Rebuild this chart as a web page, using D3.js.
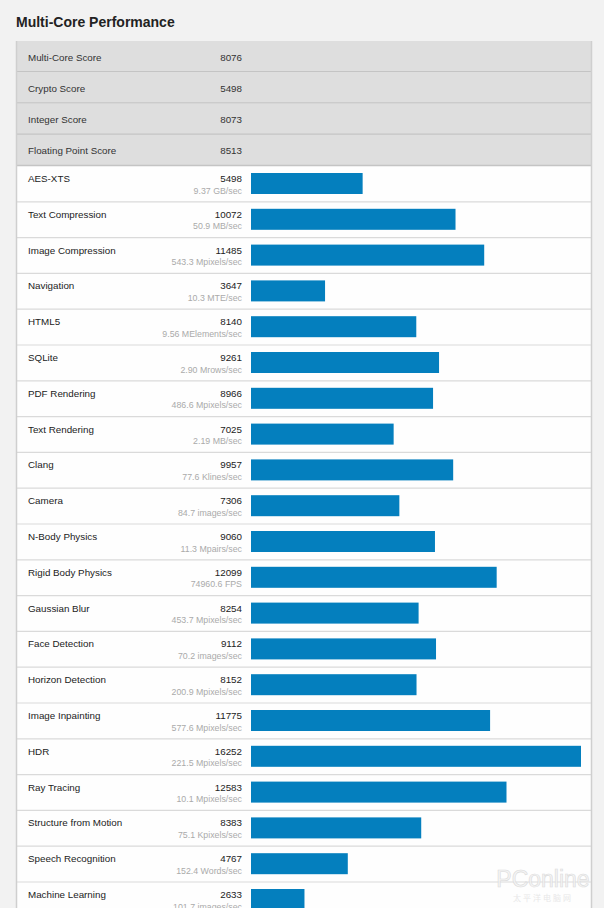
<!DOCTYPE html>
<html>
<head>
<meta charset="utf-8">
<script src="https://cdn.jsdelivr.net/npm/d3@7"></script>
<style>
html,body{margin:0;padding:0;background:#f2f2f2;}
svg{display:block;font-family:"Liberation Sans",Arial,sans-serif;}
</style>
</head>
<body>
<svg id="chart" width="604" height="908"></svg>
<script>
const title = "Multi-Core Performance";
const summaryLabels = ["Multi-Core Score","Crypto Score","Integer Score","Floating Point Score"];
const summaryValues = [8076, 5498, 8073, 8513];
const benchNames = ["AES-XTS","Text Compression","Image Compression","Navigation","HTML5","SQLite","PDF Rendering","Text Rendering","Clang","Camera","N-Body Physics","Rigid Body Physics","Gaussian Blur","Face Detection","Horizon Detection","Image Inpainting","HDR","Ray Tracing","Structure from Motion","Speech Recognition","Machine Learning"];
const benchScores = [5498,10072,11485,3647,8140,9261,8966,7025,9957,7306,9060,12099,8254,9112,8152,11775,16252,12583,8383,4767,2633];
const benchRates = ["9.37 GB/sec","50.9 MB/sec","543.3 Mpixels/sec","10.3 MTE/sec","9.56 MElements/sec","2.90 Mrows/sec","486.6 Mpixels/sec","2.19 MB/sec","77.6 Klines/sec","84.7 images/sec","11.3 Mpairs/sec","74960.6 FPS","453.7 Mpixels/sec","70.2 images/sec","200.9 Mpixels/sec","577.6 Mpixels/sec","221.5 Mpixels/sec","10.1 Mpixels/sec","75.1 Kpixels/sec","152.4 Words/sec","101.7 images/sec"];

const svg = d3.select("#chart");
const W = 604, H = 908;
const panelL = 16, panelR = 592;
const headTop = 41, headRowH = 31.25;
const benchTop = headTop + headRowH * summaryLabels.length;
const rowH = 35.8;
const valRight = 242, barX = 251;

svg.append("rect").attr("width", W).attr("height", H).attr("fill", "#f2f2f2");

svg.append("text").attr("x", 16).attr("y", 27)
  .attr("font-size", 14).attr("font-weight", "bold").attr("fill", "#222")
  .text(title);

// Panel background
svg.append("rect").attr("x", panelL).attr("y", headTop)
  .attr("width", panelR - panelL).attr("height", H - headTop + 5)
  .attr("fill", "#fefefe");

// Summary rows
const yHead = d3.scaleBand().domain(d3.range(summaryLabels.length))
  .range([headTop, benchTop]).paddingInner(0);
const hg = svg.append("g");
const hr = hg.selectAll("g").data(summaryLabels).join("g")
  .attr("transform", (d,i) => `translate(0,${yHead(i)})`);
hr.append("rect").attr("x", panelL).attr("width", panelR - panelL)
  .attr("height", yHead.bandwidth()).attr("fill", "#dedede");
hr.append("line").attr("x1", panelL).attr("x2", panelR)
  .attr("y1", yHead.bandwidth() - 0.5).attr("y2", yHead.bandwidth() - 0.5)
  .attr("stroke", "#c4c4c4").attr("stroke-width", 1.5);
hr.append("text").attr("x", 28).attr("y", 19.5).attr("font-size", 9.8)
  .attr("fill", "#333").text(d => d);
hr.append("text").attr("x", valRight).attr("y", 19.5).attr("font-size", 9.8)
  .attr("text-anchor", "end").attr("fill", "#333")
  .text((d,i) => summaryValues[i]);

// Benchmark rows
const yB = d3.scaleLinear().domain([0, benchNames.length]).range([benchTop, benchTop + rowH * benchNames.length]);
const x = d3.scaleLinear().domain([0, d3.max(benchScores)]).range([0, 330]);
const bg = svg.append("g");
const br = bg.selectAll("g").data(benchNames).join("g")
  .attr("transform", (d,i) => `translate(0,${yB(i)})`);
br.append("line").attr("x1", panelL).attr("x2", panelR)
  .attr("y1", rowH).attr("y2", rowH)
  .attr("stroke", "#dadada").attr("stroke-width", 1.2);
br.append("text").attr("x", 28).attr("y", 16).attr("font-size", 9.8)
  .attr("fill", "#222").text(d => d);
br.append("text").attr("x", valRight).attr("y", 16).attr("font-size", 9.8)
  .attr("text-anchor", "end").attr("fill", "#222")
  .text((d,i) => benchScores[i]);
br.append("text").attr("x", valRight).attr("y", 27.5).attr("font-size", 8.8)
  .attr("text-anchor", "end").attr("fill", "#aaa")
  .text((d,i) => benchRates[i]);
br.append("rect").attr("x", barX).attr("y", 7).attr("height", 21)
  .attr("width", (d,i) => x(benchScores[i])).attr("fill", "#047fbe");

// Panel borders
svg.append("line").attr("x1", panelL + 0.5).attr("x2", panelL + 0.5)
  .attr("y1", headTop).attr("y2", H).attr("stroke", "#cfcfcf").attr("stroke-width", 1.5);
svg.append("line").attr("x1", panelR - 0.5).attr("x2", panelR - 0.5)
  .attr("y1", headTop).attr("y2", H).attr("stroke", "#cfcfcf").attr("stroke-width", 1.5);

// Watermark
const wm = svg.append("g").attr("opacity", 0.9);
wm.append("text").attr("x", 543).attr("y", 887).attr("text-anchor", "middle")
  .attr("font-size", 23).attr("fill", "#f4f4f4").attr("stroke", "#d8d8d8").attr("stroke-width", 0.6)
  .text("PConline");
wm.append("text").attr("x", 543).attr("y", 901).attr("text-anchor", "middle")
  .attr("font-size", 8).attr("letter-spacing", 2).attr("fill", "#e6e6e6")
  .attr("font-family", "Noto Sans CJK SC")
  .text("太平洋电脑网");
</script>
</body>
</html>
